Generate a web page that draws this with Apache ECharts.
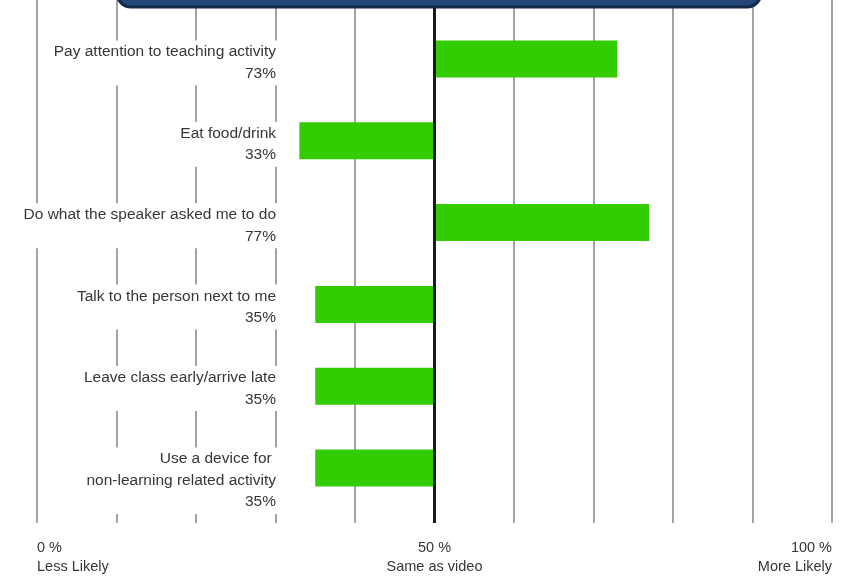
<!DOCTYPE html>
<html>
<head>
<meta charset="utf-8">
<script src="https://cdn.jsdelivr.net/npm/echarts@6/dist/echarts.min.js"></script>
<style>
  html, body { margin: 0; padding: 0; background: #fff; }
  #chart { width: 854px; height: 576px; }
</style>
</head>
<body>
<div id="chart"></div>
<script>
// Behaviours asked about, and the share of respondents more likely to do each in class
const categories = [
  'Pay attention to teaching activity',
  'Eat food/drink',
  'Do what the speaker asked me to do',
  'Talk to the person next to me',
  'Leave class early/arrive late',
  'Use a device for \nnon-learning related activity'
];
const likelihood = [73, 33, 77, 35, 35, 35];

// Scale end points and midpoint with their meaning
const scaleTicks = [0, 50, 100];
const scaleNames = ['Less Likely', 'Same as video', 'More Likely'];
const midpoint = 50;

const FONT = 'Liberation Sans';
const TEXT = '#363636';

const chart = echarts.init(document.getElementById('chart'), null, { renderer: 'canvas' });

chart.setOption({
  animation: false,
  backgroundColor: '#ffffff',
  grid: [
    // scale lines and bottom labels
    { left: 37, right: 22, top: 0, height: 523, outerBoundsMode: 'none' },
    // bars
    { left: 37, right: 22, top: 18, height: 491, outerBoundsMode: 'none' },
    // behaviour labels
    { left: 280, right: 22, top: -0.3, height: 488.4, outerBoundsMode: 'none' }
  ],
  xAxis: [
    {
      gridIndex: 0, type: 'value', min: 0, max: 100, interval: 10,
      axisLine: { show: false }, axisTick: { show: false },
      splitLine: { show: true, lineStyle: { color: '#8c8c8c', width: 1.6 } },
      axisLabel: {
        margin: 15,
        fontFamily: FONT, fontSize: 14.5, color: TEXT, lineHeight: 19.5,
        showMinLabel: true, showMaxLabel: true,
        alignMinLabel: 'left', alignMaxLabel: 'right',
        formatter: function (v) {
          const i = scaleTicks.indexOf(v);
          return i < 0 ? '' : v + ' %\n' + scaleNames[i];
        }
      }
    },
    {
      gridIndex: 1, type: 'value', min: -50, max: 50, show: false
    },
    {
      gridIndex: 2, type: 'value', min: 0, max: 1, show: false
    }
  ],
  yAxis: [
    { gridIndex: 0, type: 'value', min: 0, max: 1, show: false },
    {
      gridIndex: 1, type: 'category', data: categories, inverse: true,
      axisLine: { show: false }, axisTick: { show: false }, axisLabel: { show: false },
      splitLine: { show: false }
    },
    {
      gridIndex: 2, type: 'category', data: categories, inverse: true, z: 5,
      axisLine: { show: false }, axisTick: { show: false }, splitLine: { show: false },
      axisLabel: {
        margin: 0,
        align: 'right',
        verticalAlign: 'top',
        fontFamily: FONT, fontSize: 15.5, color: TEXT, lineHeight: 21.5,
        backgroundColor: '#ffffff',
        padding: [1, 4, 1, 6],
        formatter: function (name, idx) {
          return name + '\n' + likelihood[idx] + '%';
        }
      }
    }
  ],
  series: [
    {
      // midpoint line: same as video
      type: 'line', xAxisIndex: 0, yAxisIndex: 0, data: [], silent: true,
      markLine: {
        silent: true, symbol: 'none', label: { show: false },
        lineStyle: { color: '#1a1a1a', width: 3, type: 'solid' },
        data: [{ xAxis: midpoint }]
      }
    },
    {
      type: 'bar', xAxisIndex: 1, yAxisIndex: 1,
      barWidth: 37,
      itemStyle: { color: '#33cc00' },
      data: likelihood.map(v => v - midpoint),
      z: 3
    }
  ],
  graphic: [
    {
      type: 'rect', z: 100,
      shape: { x: 117, y: -30, width: 644, height: 37, r: 14 },
      style: { fill: '#24477a', stroke: '#14294a', lineWidth: 3 }
    }
  ]
});
</script>
</body>
</html>
